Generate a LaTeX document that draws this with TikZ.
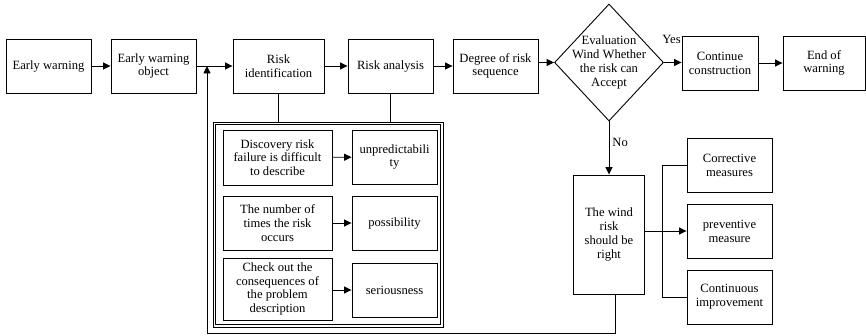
\documentclass[tikz,border=0pt]{standalone}
\usepackage{fontspec}
\setmainfont{Liberation Serif}
\usetikzlibrary{arrows.meta,shapes.geometric}

\begin{document}
\begin{tikzpicture}[x=1pt, y=-1pt, line cap=round, line join=miter,
    every node/.style={font=\fontsize{12.6}{13.8}\selectfont, align=center, inner sep=1pt},
    box/.style={draw, line width=0.9pt, minimum width=85pt, minimum height=54pt},
    decision/.style={draw, diamond, line width=0.9pt, minimum width=109pt, minimum height=117pt, inner sep=0pt},
    link/.style={line width=0.9pt},
    arr/.style={link, -{Triangle[length=7.5pt, width=7pt]}}]
  % Page
  \useasboundingbox (0,0) rectangle (866,336);

  % Main row
  \node[box] (ew) at (48.5,66) {Early warning};
  \node[box] (ewo) at (153.5,66) {Early warning\\object};
  \node[box, minimum width=91pt] (rid) at (278.5,66) {Risk\\identification};
  \node[box] (ra) at (390.5,66) {Risk analysis};
  \node[box] (drs) at (495.5,66) {Degree of risk\\sequence};
  \node[decision] (eval) at (609,62.5) {};
  \node at (eval) {Evaluation\\Wind Whether\\the risk can\\Accept};
  \node[box, minimum width=76pt] (cc) at (720,63) {Continue\\construction};
  \node[box, minimum width=82pt] (eow) at (824,63) {End of\\warning};
  \coordinate (jn) at (207,66);

  % Risk factors (grouped, double frame)
  \node[draw, line width=0.8pt, minimum width=230pt, minimum height=205pt] (grp) at (328,224.5) {};
  \draw[line width=0.8pt] ([shift={(2.7,2.7)}]grp.north west) rectangle ([shift={(-2.7,-2.7)}]grp.south east);
  \node[box, minimum width=109pt, minimum height=55pt] (d1) at (277.5,157.5) {Discovery risk\\failure is difficult\\to describe};
  \node[box, minimum width=109pt] (d2) at (277.5,223) {The number of\\times the risk\\occurs};
  \node[box, minimum width=109pt, minimum height=62pt] (d3) at (277.5,289) {Check out the\\consequences of\\the problem\\description};
  \node[box] (u1) at (394.5,157) {unpredictabili\\ty};
  \node[box] (u2) at (394.5,223) {possibility};
  \node[box] (u3) at (394.5,290) {seriousness};

  % Response branch
  \node[box, minimum width=71pt, minimum height=119pt] (wr) at (609,234.5) {The wind\\risk\\should be\\right};
  \node[box] (cm) at (729.5,165) {Corrective\\measures};
  \node[box] (pm) at (729.5,231) {preventive\\measure};
  \node[box] (ci) at (729.5,297) {Continuous\\improvement};

  % Connectors
  \draw[arr] (ew) -- (ewo);
  \draw[arr] (ewo) -- (rid);
  \draw[arr] (rid) -- (ra);
  \draw[arr] (ra) -- (drs);
  \draw[arr] (drs.east |- eval.west) -- (eval.west);
  \draw[arr] (eval.east) -- (cc.west |- eval.east);
  \draw[arr] (cc) -- (eow);
  \node (yes) at (671.5,39) {Yes};
  \draw[arr] (eval.south) -- (wr.north) node[pos=0.4, right=2pt] (no) {No};

  \draw[link] (rid.south) -- (rid.south |- grp.north);
  \draw[link] (ra.south) -- (ra.south |- grp.north);
  \draw[arr] (d1) -- (u1);
  \draw[arr] (d2) -- (u2);
  \draw[arr] (d3.east |- u3.west) -- (u3.west);

  \draw[arr] (wr.east |- pm.west) -- (pm.west);
  \draw[link] (cm.west) -- ++(-24,0) |- (ci.west);

  % Feedback loop
  \draw[arr] ([xshift=6pt]wr.south) -- ++(0,39) -| (jn);
\end{tikzpicture}
\end{document}
